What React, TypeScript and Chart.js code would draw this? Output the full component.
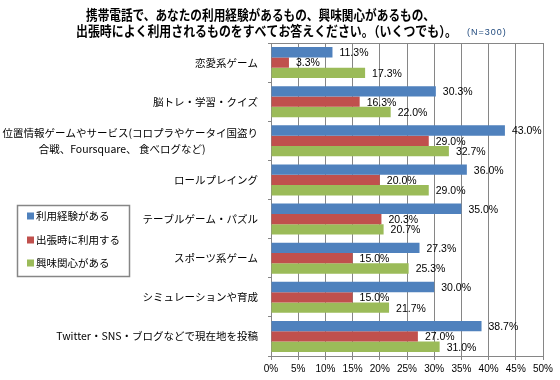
import React, { useEffect, useRef } from "react";
import { Chart, registerables } from "chart.js";

Chart.register(...registerables);

const categories: (string | string[])[] = [
  "恋愛系ゲーム",
  "脳トレ・学習・クイズ",
  [
    "位置情報ゲームやサービス(コロプラやケータイ国盗り",
    "合戦、Foursquare、 食べログなど)\u3000\u3000\u3000\u3000\u3000",
  ],
  "ロールプレイング",
  "テーブルゲーム・パズル",
  "スポーツ系ゲーム",
  "シミュレーションや育成",
  "Twitter・SNS・ブログなどで現在地を投稿",
];

const seriesNames = ["利用経験がある", "出張時に利用する", "興味関心がある"];
const experienceValues = [11.3, 30.3, 43.0, 36.0, 35.0, 27.3, 30.0, 38.7];
const businessTripValues = [3.3, 16.3, 29.0, 20.0, 20.3, 15.0, 15.0, 27.0];
const interestValues = [17.3, 22.0, 32.7, 29.0, 20.7, 25.3, 21.7, 31.0];
const seriesColors = ["#4F81BD", "#C0504D", "#9BBB59"];

const xMin = 0;
const xMax = 50;
const xStep = 5;

const titleLine1 = "携帯電話で、あなたの利用経験があるもの、興味関心があるもの、";
const titleLine2 = "出張時によく利用されるものをすべてお答えください。（いくつでも）。";
const sampleNote = "(N=300)";

const GRID = "#868686";

const titlePlugin = {
  id: "customTitle",
  afterDraw(chart: any) {
    const ctx = chart.ctx;
    ctx.save();
    ctx.fillStyle = "#000";
    ctx.textAlign = "left";
    ctx.textBaseline = "middle";
    ctx.font = "bold 13.5px 'Noto Sans CJK JP'";
    ctx.fillText(titleLine1, 86, 15, 349);
    ctx.fillText(titleLine2, 76, 31, 381);
    ctx.font = "9px 'Liberation Sans'";
    try {
      (ctx as any).letterSpacing = "1px";
    } catch (e) {}
    ctx.fillStyle = "#1F497D";
    ctx.fillText(sampleNote, 467, 33);
    ctx.restore();
  },
};

const legendPlugin = {
  id: "boxLegend",
  afterDraw(chart: any) {
    const ctx = chart.ctx;
    ctx.save();
    ctx.strokeStyle = GRID;
    ctx.lineWidth = 1.5;
    ctx.strokeRect(17.5, 205.5, 112, 71);
    ctx.font = "10.5px 'Noto Sans CJK JP'";
    ctx.textAlign = "left";
    ctx.textBaseline = "middle";
    const rows = [216, 240, 263];
    chart.data.datasets.forEach((ds: any, i: number) => {
      ctx.fillStyle = ds.backgroundColor;
      ctx.fillRect(27, rows[i] - 3.5, 7, 7);
      ctx.fillStyle = "#000";
      ctx.fillText(ds.label, 36, rows[i]);
    });
    ctx.restore();
  },
};

const dataLabelPlugin = {
  id: "barValueLabels",
  afterDatasetsDraw(chart: any) {
    const ctx = chart.ctx;
    ctx.save();
    ctx.font = "10.5px 'Liberation Sans'";
    ctx.fillStyle = "#000";
    ctx.textAlign = "left";
    ctx.textBaseline = "middle";
    chart.data.datasets.forEach((ds: any, i: number) => {
      const meta = chart.getDatasetMeta(i);
      meta.data.forEach((el: any, j: number) => {
        ctx.fillText(ds.data[j].toFixed(1) + "%", el.x + 7, el.y + 1);
      });
    });
    ctx.restore();
  },
};

const topBorderPlugin = {
  id: "topBorder",
  afterDraw(chart: any) {
    const { ctx, chartArea } = chart;
    ctx.save();
    ctx.strokeStyle = GRID;
    ctx.lineWidth = 1;
    ctx.beginPath();
    ctx.moveTo(chartArea.left, Math.round(chartArea.top) + 0.5);
    ctx.lineTo(chartArea.right, Math.round(chartArea.top) + 0.5);
    ctx.stroke();
    ctx.restore();
  },
};

export default function App() {
  const canvasRef = useRef<HTMLCanvasElement | null>(null);

  useEffect(() => {
    if (!canvasRef.current) return;
    const chart = new Chart(canvasRef.current, {
      type: "bar",
      data: {
        labels: categories,
        datasets: [
          { label: seriesNames[0], data: experienceValues, backgroundColor: seriesColors[0] },
          { label: seriesNames[1], data: businessTripValues, backgroundColor: seriesColors[1] },
          { label: seriesNames[2], data: interestValues, backgroundColor: seriesColors[2] },
        ],
      },
      options: {
        indexAxis: "y",
        animation: false,
        responsive: false,
        devicePixelRatio: 1,
        layout: { padding: { top: 43, right: 17, bottom: 0, left: 0 } },
        datasets: {
          bar: { categoryPercentage: 0.79, barPercentage: 1.0, borderWidth: 0 },
        },
        plugins: {
          legend: { display: false },
          title: { display: false },
          tooltip: { enabled: false },
        },
        scales: {
          x: {
            min: xMin,
            max: xMax,
            ticks: {
              stepSize: xStep,
              color: "#000",
              font: { family: "'Liberation Sans'", size: 10 },
              padding: 3,
              callback: (v: any) => v + "%",
            },
            grid: { color: GRID, tickLength: 4, drawTicks: true },
            border: { color: GRID },
            afterFit: (scale: any) => {
              scale.height = 24;
            },
          },
          y: {
            ticks: {
              color: "#000",
              autoSkip: false,
              padding: 10,
              font: { family: "'Noto Sans CJK JP'", size: 10.5, lineHeight: 1.5 },
            },
            grid: { drawOnChartArea: false, drawTicks: true, tickLength: 3, color: GRID },
            border: { color: GRID },
            afterFit: (scale: any) => {
              scale.width = 271;
            },
          },
        },
      },
      plugins: [titlePlugin, legendPlugin, dataLabelPlugin, topBorderPlugin],
    });
    return () => chart.destroy();
  }, []);

  return (
    <div style={{ position: "absolute", left: 0, top: 0, width: 560, height: 380, background: "#fff" }}>
      <canvas ref={canvasRef} width={560} height={380} style={{ width: 560, height: 380, display: "block" }} />
    </div>
  );
}
